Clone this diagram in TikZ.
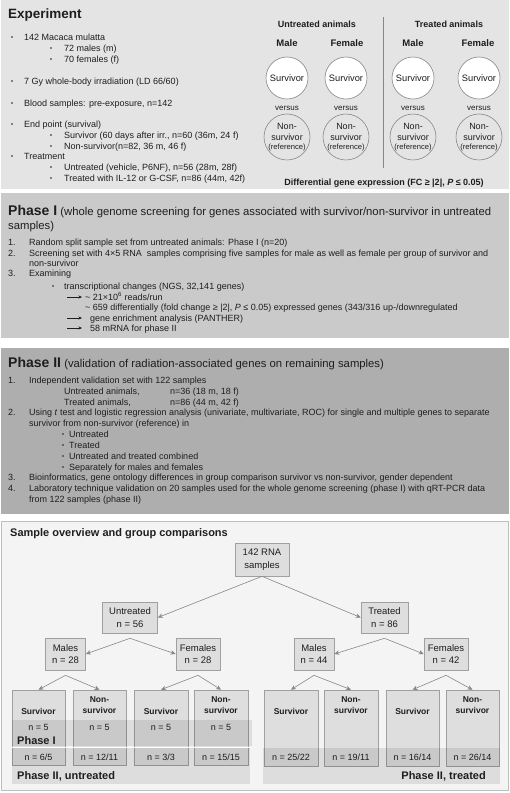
\documentclass[tikz,border=0pt]{standalone}
\usepackage{fontspec}
\setmainfont{Liberation Sans}
\usetikzlibrary{arrows.meta}
\definecolor{expbg}{RGB}{228,228,228}
\definecolor{ponebg}{RGB}{202,202,202}
\definecolor{ptwobg}{RGB}{174,174,174}
\definecolor{sobg}{RGB}{244,244,244}
\definecolor{soborder}{RGB}{190,190,190}
\definecolor{boxfill}{RGB}{222,222,222}
\definecolor{boxdraw}{RGB}{160,160,160}
\definecolor{arr}{RGB}{135,135,135}
\definecolor{txt}{RGB}{30,30,30}
\begin{document}
\begin{tikzpicture}[x=1pt,y=-1pt,
  t9/.style={anchor=base west, inner sep=0pt, text=txt, font=\fontsize{9}{11}\selectfont},
  ttl/.style={anchor=base west, inner sep=0pt, text=txt, font=\fontsize{13.5}{16}\selectfont\bfseries},
  ptl/.style={anchor=base west, inner sep=0pt, text=txt, font=\fontsize{11.3}{14}\selectfont},
  hb/.style={inner sep=0pt, text=txt, font=\fontsize{9}{11}\selectfont\bfseries},
  sx/.style={inner sep=0pt, text=txt, font=\fontsize{9.5}{11}\selectfont\bfseries},
  surv/.style={circle, draw=arr, fill=white, line width=0.6pt, minimum size=42pt, inner sep=0pt, text=txt, font=\fontsize{9.3}{11}\selectfont},
  nsurv/.style={circle, draw=arr, line width=0.6pt, minimum size=42pt, inner sep=0pt, text=txt, align=center, font=\fontsize{9}{10.5}\selectfont},
  vs/.style={inner sep=0pt, text=txt, font=\fontsize{8}{10}\selectfont},
  txtarrow/.style={draw=txt, line width=0.5pt, -{Stealth[length=3.5pt,width=3pt]}},
  bx/.style={draw=boxdraw, fill=boxfill, line width=0.6pt, inner sep=0pt, align=center, text=txt, font=\fontsize{9.5}{12.4}\selectfont},
  leaf/.style={draw=boxdraw, fill=boxfill, line width=0.6pt, inner sep=0pt, minimum width=53pt, minimum height=75pt},
  lbold/.style={inner sep=0pt, align=center, text=txt, font=\fontsize{8.5}{11}\selectfont\bfseries},
  lnum/.style={inner sep=0pt, text=txt, font=\fontsize{9}{11}\selectfont},
  band/.style={fill=black, opacity=0.09},
  btxt/.style={inner sep=0pt, text=txt, font=\fontsize{11}{13}\selectfont\bfseries},
  tarrow/.style={draw=arr, line width=0.6pt, -{Stealth[length=5pt,width=4.5pt]}}
]
\useasboundingbox (0,0) rectangle (510,793);
\fill[white] (0,0) rectangle (510,793);
% panels
\fill[expbg] (1,0) rectangle (509,189);
\fill[ponebg] (1,193) rectangle (509,338);
\fill[ptwobg] (1,348) rectangle (509,514);
\filldraw[fill=sobg, draw=soborder, line width=0.8pt] (1.5,521) rectangle (508.5,790);

% ---------------- Experiment ----------------
\node[ttl] (exptitle) at (8,18) {Experiment};
\foreach \yy in {37,81,103,124,156} {\fill[txt] (12,\yy) circle (0.9);}
\foreach \yy in {48,59,135,146,167,178} {\fill[txt] (51,\yy) circle (0.9);}
\node[t9] (e1) at (24,40) {142 Macaca mulatta};
\node[t9] (e1a) at (64,51) {72 males (m)};
\node[t9] (e1b) at (64,62) {70 females (f)};
\node[t9] (e2) at (24,84) {7 Gy whole-body irradiation (LD 66/60)};
\node[t9] (e3) at (24,106) {Blood samples: pre-exposure, n=142};
\node[t9] (e4) at (24,127) {End point (survival)};
\node[t9] (e4a) at (64,138) {Survivor (60 days after irr., n=60 (36m, 24 f)};
\node[t9] (e4b) at (64,149) {Non-survivor(n=82, 36 m, 46 f)};
\node[t9] (e5) at (24,159) {Treatment};
\node[t9] (e5a) at (64,170) {Untreated (vehicle, P6NF), n=56 (28m, 28f)};
\node[t9] (e5b) at (64,181) {Treated with IL-12 or G-CSF, n=86 (44m, 42f)};

\node[hb] (uanim) at (317,24) {Untreated animals};
\node[hb] (tanim) at (449,24) {Treated animals};
\node[sx] (lm1) at (287,43) {Male};
\node[sx] (lf1) at (347,43) {Female};
\node[sx] (lm2) at (413,43) {Male};
\node[sx] (lf2) at (478,43) {Female};
\node[surv] (s1) at (287,78) {Survivor};
\node[surv] (s2) at (346,78) {Survivor};
\node[surv] (s3) at (413,78) {Survivor};
\node[surv] (s4) at (479,78) {Survivor};
\node[vs] (v1) at (287,108) {versus};
\node[vs] (v2) at (346,108) {versus};
\node[vs] (v3) at (413,108) {versus};
\node[vs] (v4) at (479,108) {versus};
\node[nsurv] (n1) at (287,137) {Non-\\survivor\\[-1.5pt]{\fontsize{7.6}{9}\selectfont(reference)}};
\node[nsurv] (n2) at (346,137) {Non-\\survivor\\[-1.5pt]{\fontsize{7.6}{9}\selectfont(reference)}};
\node[nsurv] (n3) at (413,137) {Non-\\survivor\\[-1.5pt]{\fontsize{7.6}{9}\selectfont(reference)}};
\node[nsurv] (n4) at (479,137) {Non-\\survivor\\[-1.5pt]{\fontsize{7.6}{9}\selectfont(reference)}};
\coordinate (sepa) at (383,17);
\coordinate (sepb) at (383,168);
\draw[arr, line width=0.7pt] (sepa) -- (sepb);
\node[hb] (dge) at (384,183) {Differential gene expression (FC ≥ |2|, \textit{P} ≤ 0.05)};

% ---------------- Phase I ----------------
\node[ptl] (p1t) at (8,215) {{\fontsize{14}{17}\selectfont\bfseries Phase I} (whole genome screening for genes associated with survivor/non-survivor in untreated};
\node[ptl] (p1t2) at (8,229.5) {samples)};
\node[t9] (p1n1) at (8,245) {1.};
\node[t9] (p1i1) at (29,245) {Random split sample set from untreated animals: Phase I (n=20)};
\node[t9] (p1n2) at (8,256) {2.};
\node[t9] (p1i2) at (29,256) {Screening set with 4×5 RNA\ \ samples comprising five samples for male as well as female per group of survivor and};
\node[t9] (p1i2b) at (29,266) {non-survivor};
\node[t9] (p1n3) at (8,276) {3.};
\node[t9] (p1i3) at (29,276) {Examining};
\fill[txt] (53,286) circle (0.9);
\node[t9] (p1a) at (64,289) {transcriptional changes (NGS, 32,141 genes)};
\coordinate (a1s) at (67,297); \coordinate (a1e) at (82,297);
\draw[txtarrow] (a1s) -- (a1e);
\node[t9] (p1b) at (85,300) {\textasciitilde{} 21×10\textsuperscript{6} reads/run};
\node[t9] (p1c) at (85,310) {\textasciitilde{} 659 differentially (fold change ≥ |2|, \textit{P} ≤ 0.05) expressed genes (343/316 up-/downregulated};
\coordinate (a2s) at (67,318); \coordinate (a2e) at (82,318);
\draw[txtarrow] (a2s) -- (a2e);
\node[t9] (p1d) at (90,321) {gene enrichment analysis (PANTHER)};
\coordinate (a3s) at (67,328); \coordinate (a3e) at (82,328);
\draw[txtarrow] (a3s) -- (a3e);
\node[t9] (p1e) at (90,331) {58 mRNA for phase II};

% ---------------- Phase II ----------------
\node[ptl] (p2t) at (8,367) {{\fontsize{14}{17}\selectfont\bfseries Phase II} (validation of radiation-associated genes on remaining samples)};
\node[t9] (p2n1) at (8,383) {1.};
\node[t9] (p2i1) at (29,383) {Independent validation set with 122 samples};
\node[t9] (p2u) at (64,394) {Untreated animals,};
\node[t9] (p2un) at (170,394) {n=36 (18 m, 18 f)};
\node[t9] (p2t1) at (64,405) {Treated animals,};
\node[t9] (p2tn) at (170,405) {n=86 (44 m, 42 f)};
\node[t9] (p2n2) at (8,415) {2.};
\node[t9] (p2i2) at (29,415) {Using \textit{t} test and logistic regression analysis (univariate, multivariate, ROC) for single and multiple genes to separate};
\node[t9] (p2i2b) at (29,426) {survivor from non-survivor (reference) in};
\foreach \yy in {434,445,456,467} {\fill[txt] (63,\yy) circle (0.9);}
\node[t9] (p2b1) at (69,437) {Untreated};
\node[t9] (p2b2) at (69,448) {Treated};
\node[t9] (p2b3) at (69,459) {Untreated and treated combined};
\node[t9] (p2b4) at (69,470) {Separately for males and females};
\node[t9] (p2n3) at (8,480) {3.};
\node[t9] (p2i3) at (29,480) {Bioinformatics, gene ontology differences in group comparison survivor vs non-survivor, gender dependent};
\node[t9] (p2n4) at (8,491) {4.};
\node[t9] (p2i4) at (29,491) {Laboratory technique validation on 20 samples used for the whole genome screening (phase I) with qRT-PCR data};
\node[t9] (p2i4b) at (29,502) {from 122 samples (phase II)};

% ---------------- Sample overview ----------------
\node[anchor=base west, inner sep=0pt, text=txt, font=\fontsize{11}{13}\selectfont\bfseries] (sotitle) at (10,536) {Sample overview and group comparisons};

\node[bx, minimum width=54pt, minimum height=33pt] (rna) at (262,559.5) {142 RNA\\samples};
\node[bx, minimum width=55pt, minimum height=31pt] (untr) at (130,617.5) {Untreated\\n = 56};
\node[bx, minimum width=47pt, minimum height=31pt] (trt) at (384.5,617.5) {Treated\\n = 86};
\node[bx, minimum width=40pt, minimum height=32pt] (mu) at (65.5,654) {Males\\n = 28};
\node[bx, minimum width=44pt, minimum height=32pt] (fu) at (198,654) {Females\\n = 28};
\node[bx, minimum width=40pt, minimum height=32pt] (mt) at (314,654) {Males\\n = 44};
\node[bx, minimum width=44pt, minimum height=32pt] (ft) at (446,654) {Females\\n = 42};

\node[leaf] (lu1) at (38.5,727.5) {};
\node[leaf] (lu2) at (99.5,727.5) {};
\node[leaf, minimum width=54pt] (lu3) at (161,727.5) {};
\node[leaf, minimum width=54pt] (lu4) at (221,727.5) {};
\node[leaf, minimum width=54pt, minimum height=76pt] (lt1) at (291,728) {};
\node[leaf, minimum width=54pt, minimum height=76pt] (lt2) at (351,728) {};
\node[leaf, minimum width=53pt, minimum height=76pt] (lt3) at (412.5,728) {};
\node[leaf, minimum width=53pt, minimum height=76pt] (lt4) at (472.5,728) {};

% connectors
\draw[tarrow] (rna.south) -- (untr.east);
\draw[tarrow] (rna.south) -- (trt.west);
\draw[tarrow] ([yshift=-5pt]untr.south) -- (mu.east);
\draw[tarrow] ([yshift=-5pt]untr.south) -- (fu.west);
\draw[tarrow] ([yshift=-5pt]trt.south) -- (mt.east);
\draw[tarrow] ([yshift=-5pt]trt.south) -- (ft.west);
\draw[tarrow] ([yshift=-5pt]mu.south) -- (lu1.north);
\draw[tarrow] ([yshift=-5pt]mu.south) -- (lu2.north);
\draw[tarrow] ([yshift=-5pt]fu.south) -- (lu3.north);
\draw[tarrow] ([yshift=-5pt]fu.south) -- (lu4.north);
\draw[tarrow] ([yshift=-5pt]mt.south) -- (lt1.north);
\draw[tarrow] ([yshift=-5pt]mt.south) -- (lt2.north);
\draw[tarrow] ([yshift=-5pt]ft.south) -- (lt3.north);
\draw[tarrow] ([yshift=-5pt]ft.south) -- (lt4.north);

% leaf labels
\node[lbold] (lu1a) at (38.5,711) {Survivor};
\node[lbold] (lu2a) at (99.5,705.5) {Non-\\survivor};
\node[lbold] (lu3a) at (161,711) {Survivor};
\node[lbold] (lu4a) at (221,705.5) {Non-\\survivor};
\node[lbold] (lt1a) at (291,711) {Survivor};
\node[lbold] (lt2a) at (351,705.5) {Non-\\survivor};
\node[lbold] (lt3a) at (412.5,711) {Survivor};
\node[lbold] (lt4a) at (472.5,705.5) {Non-\\survivor};
\node[lnum] (lu1b) at (38.5,727) {n = 5};
\node[lnum] (lu2b) at (99.5,727) {n = 5};
\node[lnum] (lu3b) at (161,727) {n = 5};
\node[lnum] (lu4b) at (221,727) {n = 5};
\node[lnum] (lu1c) at (38.5,757) {n = 6/5};
\node[lnum] (lu2c) at (99.5,757) {n = 12/11};
\node[lnum] (lu3c) at (161,757) {n = 3/3};
\node[lnum] (lu4c) at (221,757) {n = 15/15};
\node[lnum] (lt1c) at (291,757) {n = 25/22};
\node[lnum] (lt2c) at (351,757) {n = 19/11};
\node[lnum] (lt3c) at (412.5,757) {n = 16/14};
\node[lnum] (lt4c) at (472.5,757) {n = 26/14};

% bands
\fill[band] (12,720) rectangle (252,746);
\fill[band] (12,748) rectangle (250,784);
\fill[band] (263,748) rectangle (500,784);
\draw[white, line width=1pt] (12,747) -- (252,747);
\node[btxt, anchor=base west] (bp1) at (17,744) {Phase I};
\node[btxt, anchor=base west] (bp2u) at (17,779) {Phase II, untreated};
\node[btxt, anchor=base east] (bp2t) at (486,779) {Phase II, treated};
\end{tikzpicture}
\end{document}
